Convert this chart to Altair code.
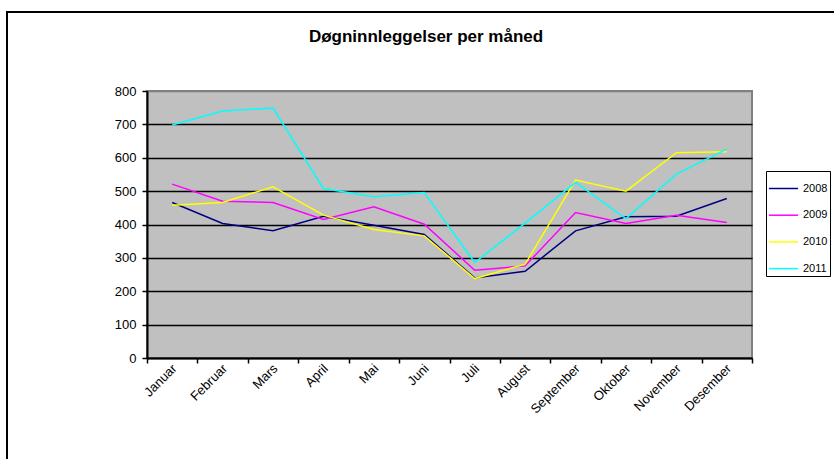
import altair as alt
import pandas as pd

months = ["Januar", "Februar", "Mars", "April", "Mai", "Juni", "Juli",
          "August", "September", "Oktober", "November", "Desember"]
series = ["2008", "2009", "2010", "2011"]
colors = ["#000080", "#FF00FF", "#FFFF00", "#00FFFF"]
v2008 = [466, 403, 381, 425, 398, 370, 240, 260, 381, 423, 425, 478]
v2009 = [521, 470, 466, 415, 453, 401, 263, 276, 436, 403, 428, 406]
v2010 = [458, 466, 513, 428, 385, 366, 238, 281, 533, 500, 615, 618]
v2011 = [698, 740, 749, 508, 483, 496, 286, 404, 526, 418, 551, 626]
y_ticks = [0, 100, 200, 300, 400, 500, 600, 700, 800]
title_text = "Døgninnleggelser per måned"

rows = []
for s, vals in zip(series, [v2008, v2009, v2010, v2011]):
    for i, (m, v) in enumerate(zip(months, vals)):
        rows.append({"month": m, "year": s, "value": v, "idx": i})
df = pd.DataFrame(rows)

FONT = "Liberation Sans"

lines = alt.Chart(df).mark_line(strokeWidth=1.5).encode(
    x=alt.X("month:N", sort=months,
            scale=alt.Scale(type="band", paddingInner=0, paddingOuter=0),
            axis=alt.Axis(title=None, labelAngle=-45, labelAlign="right",
                          labelBaseline="middle", labelFontSize=13,
                          labelFont=FONT, labelColor="black", labelPadding=3,
                          labelOffset=2,
                          tickBand="extent", tickSize=5, tickColor="black",
                          tickWidth=1.5, domainColor="black", domainWidth=2,
                          grid=False)),
    y=alt.Y("value:Q", scale=alt.Scale(domain=[0, 800], nice=False),
            axis=alt.Axis(title=None, values=y_ticks, labelFontSize=13,
                          labelFont=FONT, labelColor="black", labelPadding=6,
                          tickSize=5, tickColor="black", tickWidth=1.5,
                          domainColor="black", domainWidth=2,
                          grid=True, gridWidth=1.5,
                          gridColor=alt.condition("datum.value === 800",
                                                  alt.value("#808080"),
                                                  alt.value("black")))),
    color=alt.Color("year:N", scale=alt.Scale(domain=series, range=colors),
                    legend=alt.Legend(orient="none", legendX=619, legendY=80,
                                      title=None, strokeColor="black",
                                      fillColor="white", padding=2,
                                      symbolType="stroke", symbolSize=850,
                                      symbolStrokeWidth=1.5,
                                      labelFontSize=11, labelFont=FONT,
                                      labelColor="black", rowPadding=5.7)),
    order="idx:Q",
)

title = alt.Chart(alt.Data(values=[{"t": title_text}])).mark_text(
    font=FONT, fontSize=17, fontWeight="bold", color="black",
    align="center", baseline="alphabetic"
).encode(text="t:N", x=alt.value(279), y=alt.value(-49))

frame = alt.Chart(alt.Data(values=[{"a": 1}])).mark_rect(
    fill=None, stroke="black", strokeWidth=2, clip=False
).encode(x=alt.value(-140), x2=alt.value(700), y=alt.value(-79), y2=alt.value(380))

chart = alt.layer(frame, lines, title).properties(
    width=605, height=267,
    autosize=alt.AutoSizeParams(type="none"),
    padding={"left": 147, "top": 91, "right": 82, "bottom": 101},
    background="white",
).configure_view(fill="#C0C0C0", stroke="#808080", strokeWidth=2)

chart.save("out.html", embed_options={"renderer": "svg", "actions": False})
